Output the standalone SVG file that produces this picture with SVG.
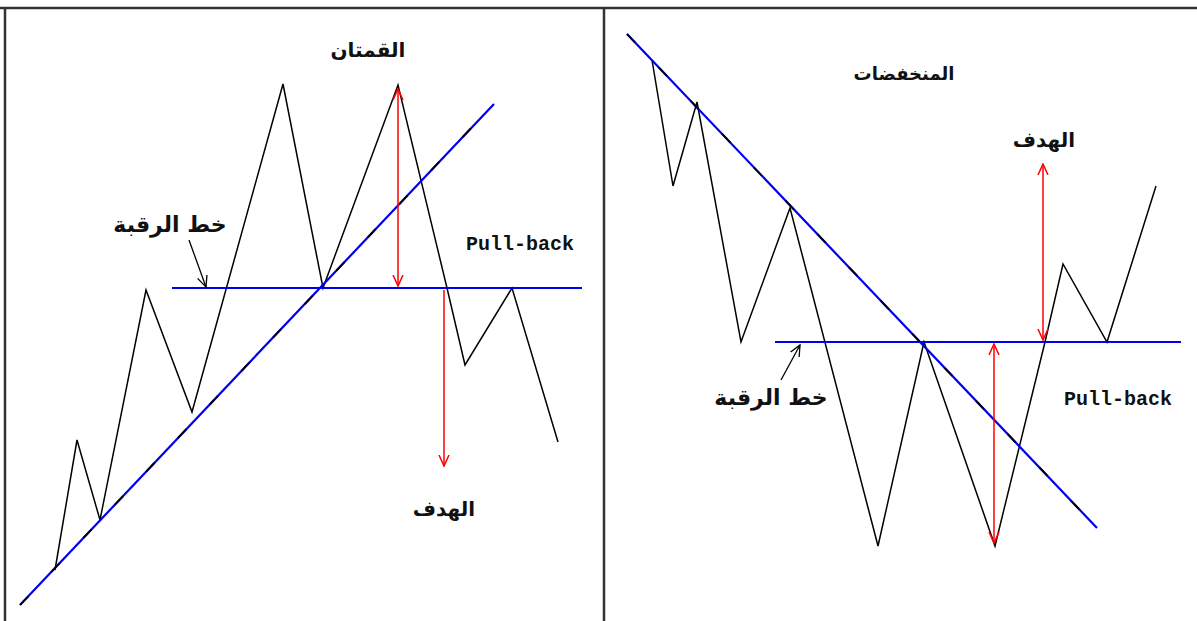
<svg xmlns="http://www.w3.org/2000/svg" width="1197" height="621" viewBox="0 0 1197 621">
<defs>
<style>
.frame{stroke:#333;stroke-width:2.5;fill:none}
.zig{stroke:#000;stroke-width:1.5;fill:none;stroke-linejoin:miter}
.blue{stroke:#0000ee;stroke-width:2.2;fill:none}
.dash{stroke:#000;stroke-width:1.8;stroke-dasharray:12 34;fill:none}
.red{stroke:#ff0000;stroke-width:1.5;fill:none}
.ptr{stroke:#000;stroke-width:1.3;fill:none}
.ar{font-family:"DejaVu Sans",sans-serif;font-weight:bold;font-size:20px;fill:#111;text-anchor:middle}
.en{font-family:"Liberation Mono",monospace;font-weight:bold;font-size:20px;fill:#111;text-anchor:middle}
</style>
<marker id="rh" viewBox="0 0 12 12" refX="11" refY="6" markerWidth="12" markerHeight="12" markerUnits="userSpaceOnUse" orient="auto-start-reverse">
<path d="M0,1 L11,6 L0,11" fill="none" stroke="#ff0000" stroke-width="1.5"/>
</marker>
<marker id="bh" viewBox="0 0 12 12" refX="11" refY="6" markerWidth="12" markerHeight="12" markerUnits="userSpaceOnUse" orient="auto">
<path d="M0,1 L11,6 L0,11" fill="none" stroke="#000" stroke-width="1.3"/>
</marker>
</defs>
<rect width="1197" height="621" fill="#fff"/>
<g id="frame">
<line class="frame" x1="0" y1="8" x2="1197" y2="8"/>
<line class="frame" x1="5" y1="8" x2="5" y2="621"/>
<line class="frame" x1="604" y1="8" x2="604" y2="621"/>
</g>
<g id="connectors">
<polyline class="zig" points="55,570 77,440 100,520 146,290 192,412 283,84 323,288 398,85 447,288 465,365 512,288 558,442"/>
<line class="blue" x1="20" y1="605" x2="494" y2="104"/>
<line class="dash" x1="20" y1="605" x2="494" y2="104"/>
<line class="blue" x1="172" y1="288" x2="582" y2="288"/>
<line class="red" x1="398" y1="89" x2="398" y2="286" marker-start="url(#rh)" marker-end="url(#rh)"/>
<line class="red" x1="444" y1="290" x2="444" y2="466" marker-end="url(#rh)"/>
<line class="ptr" x1="189" y1="240" x2="206" y2="287" marker-end="url(#bh)"/>
<polyline class="zig" points="652,60 673,186 697,102 741,342 790,208 878,546 924,342 995,546 1045,342 1063,264 1107,342 1156,186"/>
<line class="blue" x1="627" y1="34" x2="1097" y2="528"/>
<line class="dash" x1="627" y1="34" x2="1097" y2="528"/>
<line class="blue" x1="775" y1="342" x2="1181" y2="342"/>
<line class="red" x1="1043" y1="164" x2="1043" y2="340" marker-start="url(#rh)" marker-end="url(#rh)"/>
<line class="red" x1="994" y1="344" x2="994" y2="543" marker-start="url(#rh)" marker-end="url(#rh)"/>
<line class="ptr" x1="781" y1="380" x2="800" y2="345" marker-end="url(#bh)"/>
</g>
<g id="label-peaks"><text class="ar" x="368" y="57">القمتان</text></g>
<g id="label-neck-left"><text class="ar" x="170" y="232" style="font-size:22px">خط الرقبة</text></g>
<g id="label-pullback-left"><text class="en" x="520" y="250">Pull-back</text></g>
<g id="label-target-left"><text class="ar" x="444" y="516">الهدف</text></g>
<g id="label-troughs"><text class="ar" x="904" y="80" style="font-size:18px">المنخفضات</text></g>
<g id="label-target-right"><text class="ar" x="1044" y="147">الهدف</text></g>
<g id="label-neck-right"><text class="ar" x="771" y="405" style="font-size:22px">خط الرقبة</text></g>
<g id="label-pullback-right"><text class="en" x="1118" y="405">Pull-back</text></g>
</svg>
